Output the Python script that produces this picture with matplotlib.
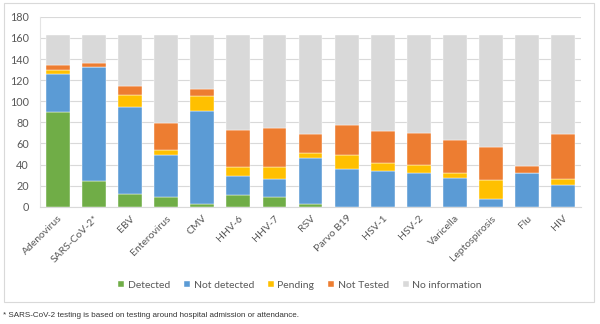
import numpy as np
import matplotlib
matplotlib.use('Agg')
import matplotlib.pyplot as plt
from matplotlib.patches import Rectangle

viruses = ['Adenovirus', 'SARS-CoV-2*', 'EBV', 'Enterovirus', 'CMV', 'HHV-6', 'HHV-7', 'RSV',
           'Parvo B19', 'HSV-1', 'HSV-2', 'Varicella', 'Leptospirosis', 'Flu', 'HIV']
detected = [90, 24, 12, 9, 3, 11, 9, 3, 0, 0, 0, 0, 0, 0, 0]
not_detected = [36, 108, 83, 40, 88, 18, 17, 43, 36, 34, 32, 27, 7, 32, 21]
pending = [4, 0, 11, 5, 14, 9, 12, 5, 13, 7, 8, 5, 18, 0, 5]
not_tested = [4, 4, 8, 25, 7, 35, 37, 18, 28, 31, 30, 31, 32, 7, 43]
no_info = [29, 27, 49, 84, 51, 90, 88, 94, 86, 91, 93, 100, 106, 124, 94]

series = [('Detected', detected, '#70AD47'),
          ('Not detected', not_detected, '#5B9BD5'),
          ('Pending', pending, '#FFC000'),
          ('Not Tested', not_tested, '#ED7D31'),
          ('No information', no_info, '#D9D9D9')]

plt.rcParams['font.family'] = ['Lato', 'DejaVu Sans']
txt = '#595959'

fig = plt.figure(figsize=(6, 3.24), dpi=100)
ax = fig.add_axes([0.0667, 0.362, 0.9017, 0.586])

x = np.arange(len(viruses))
bottom = np.zeros(len(viruses))
for name, vals, col in series:
    vals = np.array(vals, dtype=float)
    ax.bar(x, vals, 0.66, bottom=bottom, color=col, label=name,
           edgecolor='white', linewidth=0.3, zorder=3)
    bottom += vals

ax.set_ylim(0, 180)
ax.set_xlim(-0.5, len(viruses) - 0.5)
ax.set_yticks(range(0, 181, 20))
ax.yaxis.grid(True, color='#D9D9D9', linewidth=0.8, zorder=0)
ax.set_axisbelow(True)
for s in ['top', 'right']:
    ax.spines[s].set_visible(False)
ax.spines['left'].set_color('#E4E4E4')
ax.spines['bottom'].set_color('#D9D9D9')
ax.tick_params(axis='y', length=0, labelsize=7.8, labelcolor=txt, pad=8)
ax.tick_params(axis='x', length=0, labelsize=7.5, labelcolor=txt, pad=5)
ax.set_xticks(x)
ax.set_xticklabels(viruses, rotation=45, ha='right', rotation_mode='anchor')

leg = fig.legend(loc='center', bbox_to_anchor=(0.5, 0.12), ncol=5, frameon=False,
                 fontsize=7.5, handlelength=0.6, handleheight=0.6, handletextpad=0.35,
                 columnspacing=1.3, labelcolor=txt)

fig.patches.append(Rectangle((4 / 600, 1 - 302 / 324), 590 / 600, 299 / 324,
                             transform=fig.transFigure, fill=False,
                             edgecolor='#D9D9D9', linewidth=0.8))

fig.text(0.005, 1 - 315.5 / 324, '* SARS-CoV-2 testing is based on testing around hospital admission or attendance.',
         fontsize=5.8, family=['Liberation Sans'], color='#333333', va='center')

fig.savefig('out.png', dpi=100)
